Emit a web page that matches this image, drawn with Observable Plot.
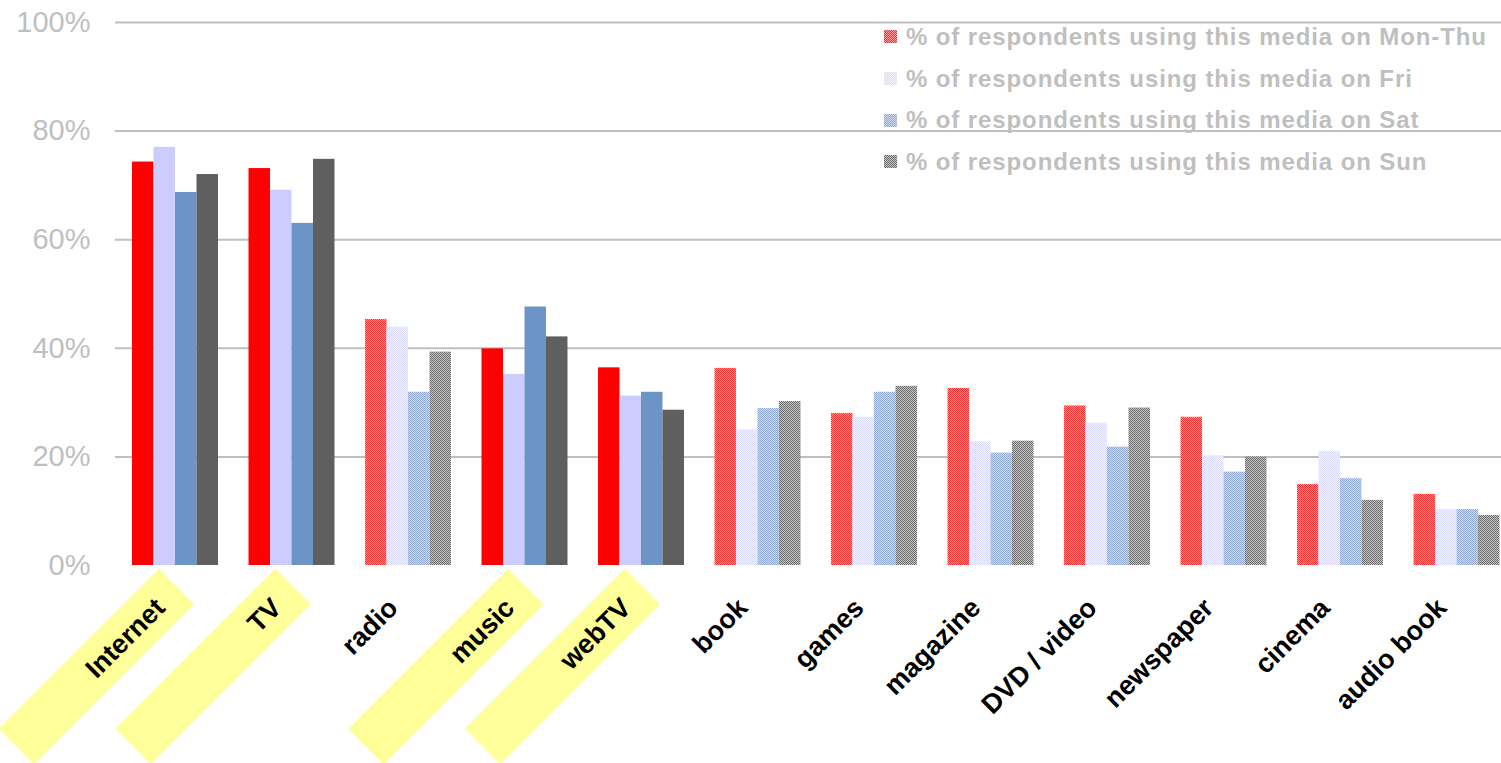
<!DOCTYPE html>
<html>
<head>
<meta charset="utf-8">
<script src="https://cdn.jsdelivr.net/npm/d3@7"></script>
<script src="https://cdn.jsdelivr.net/npm/@observablehq/plot@0.6"></script>
<style>
  html, body { margin: 0; padding: 0; background: #fff; }
  #wrap { position: relative; width: 1501px; height: 763px; overflow: hidden; font-family: "Liberation Sans", Arial, sans-serif; }
  #legend { position: absolute; left: 884px; top: 16px; }
  .lg-row { height: 41.7px; display: flex; align-items: center; }
  .lg-sw { width: 13px; height: 13px; margin-right: 9px; }
  .lg-tx { font-weight: bold; font-size: 24px; color: #BFBFBF; letter-spacing: 0.9px; white-space: nowrap; }
</style>
</head>
<body>
<div id="wrap"><div id="chart"></div><div id="legend"></div></div>
<script>
// ---- data ----
const categories = ["Internet", "TV", "radio", "music", "webTV", "book", "games", "magazine", "DVD / video", "newspaper", "cinema", "audio book"];
const highlighted = ["Internet", "TV", "music", "webTV"];
const seriesNames = [
  "% of respondents using this media on Mon-Thu",
  "% of respondents using this media on Fri",
  "% of respondents using this media on Sat",
  "% of respondents using this media on Sun"
];
const monThu = [74.3, 73.1, 45.3, 39.9, 36.4, 36.3, 28.0, 32.6, 29.4, 27.3, 14.9, 13.1];
const fri    = [77.0, 69.1, 43.9, 35.2, 31.2, 25.0, 27.3, 22.8, 26.2, 20.2, 21.0, 10.3];
const sat    = [68.7, 63.0, 31.9, 47.6, 31.9, 28.9, 31.9, 20.7, 21.8, 17.2, 16.0, 10.3];
const sun    = [72.0, 74.8, 39.3, 42.1, 28.6, 30.2, 33.0, 22.9, 29.0, 20.0, 12.0, 9.2];
const yTicks = [0, 20, 40, 60, 80, 100];

// ---- styles ----
const solidColors = ["#FF0000", "#CCCCFF", "#6D94C6", "#5F5F5F"];
const patternColors = [["#FF2A2A", "#FF9C9C"], ["#DADAFF", "#F4F4FF"], ["#92ACD6", "#CBD8EC"], ["#6C6C6C", "#C6C6C6"]];
const patternIds = ["pat0", "pat1", "pat2", "pat3"];

const seriesValues = [monThu, fri, sat, sun];
const rows = categories.flatMap((c, i) => seriesNames.map((s, j) => ({category: c, series: j, value: seriesValues[j][i]})));

const barW = 116.5 * 0.738 / 4;

// rotated highlight box (relative to label anchor at band centre on the zero line)
const boxSymbol = {
  draw(ctx) {
    ctx.moveTo(-16.7, 3.3);
    ctx.lineTo(18.7, 38.7);
    ctx.lineTo(-141.3, 198.7);
    ctx.lineTo(-176.7, 163.3);
    ctx.closePath();
  }
};

const svg = Plot.plot({
  width: 1501,
  height: 763,
  marginLeft: 115,
  marginRight: 0,
  marginTop: 22,
  marginBottom: 198,
  style: {fontFamily: "'Liberation Sans', Arial, sans-serif", background: "transparent"},
  x: {domain: categories, range: [116.75, 1514.75], paddingInner: 0.262, paddingOuter: 0.131, round: false, axis: null},
  y: {domain: [0, 100]},
  color: {type: "identity"},
  marks: [
    Plot.gridY(yTicks.filter(d => d > 0), {stroke: "#BFBFBF", strokeOpacity: 1, strokeWidth: 2}),
    Plot.axisY(yTicks, {tickSize: 0, tickPadding: 25, tickFormat: d => d + "%", fill: "#BFBFBF", fontSize: 29, label: null}),
    Plot.dot(highlighted, {x: d => d, frameAnchor: "bottom", symbol: boxSymbol, r: 1, fill: "#FFFF99"}),
    ...seriesNames.map((s, j) => Plot.barY(rows.filter(r => r.series === j), {
      x: "category",
      y: "value",
      fill: r => highlighted.includes(r.category) ? solidColors[j] : `url(#${patternIds[j]})`,
      insetLeft: j * barW,
      insetRight: (3 - j) * barW
    })),
    Plot.text(categories, {x: d => d, frameAnchor: "bottom", rotate: -45, textAnchor: "end", dx: -9, dy: 44, fontWeight: "bold", fontSize: 27, fill: "black"})
  ]
});

// patterns
const defs = d3.select(svg).insert("defs", ":first-child");
patternIds.forEach((id, j) => {
  const [a, b] = patternColors[j];
  const p = defs.append("pattern").attr("id", id).attr("patternUnits", "userSpaceOnUse").attr("width", 2).attr("height", 2);
  p.append("rect").attr("width", 2).attr("height", 2).attr("fill", b);
  p.append("rect").attr("width", 1).attr("height", 1).attr("fill", a);
  p.append("rect").attr("x", 1).attr("y", 1).attr("width", 1).attr("height", 1).attr("fill", a);
});
document.getElementById("chart").appendChild(svg);

// legend
const legend = d3.select("#legend");
seriesNames.forEach((s, j) => {
  const row = legend.append("div").attr("class", "lg-row");
  const [a, b] = patternColors[j];
  row.append("div").attr("class", "lg-sw")
    .style("background", `repeating-conic-gradient(${a} 0 25%, ${b} 0 50%) 0 0 / 2px 2px`);
  row.append("div").attr("class", "lg-tx").text(s);
});
</script>
</body>
</html>
